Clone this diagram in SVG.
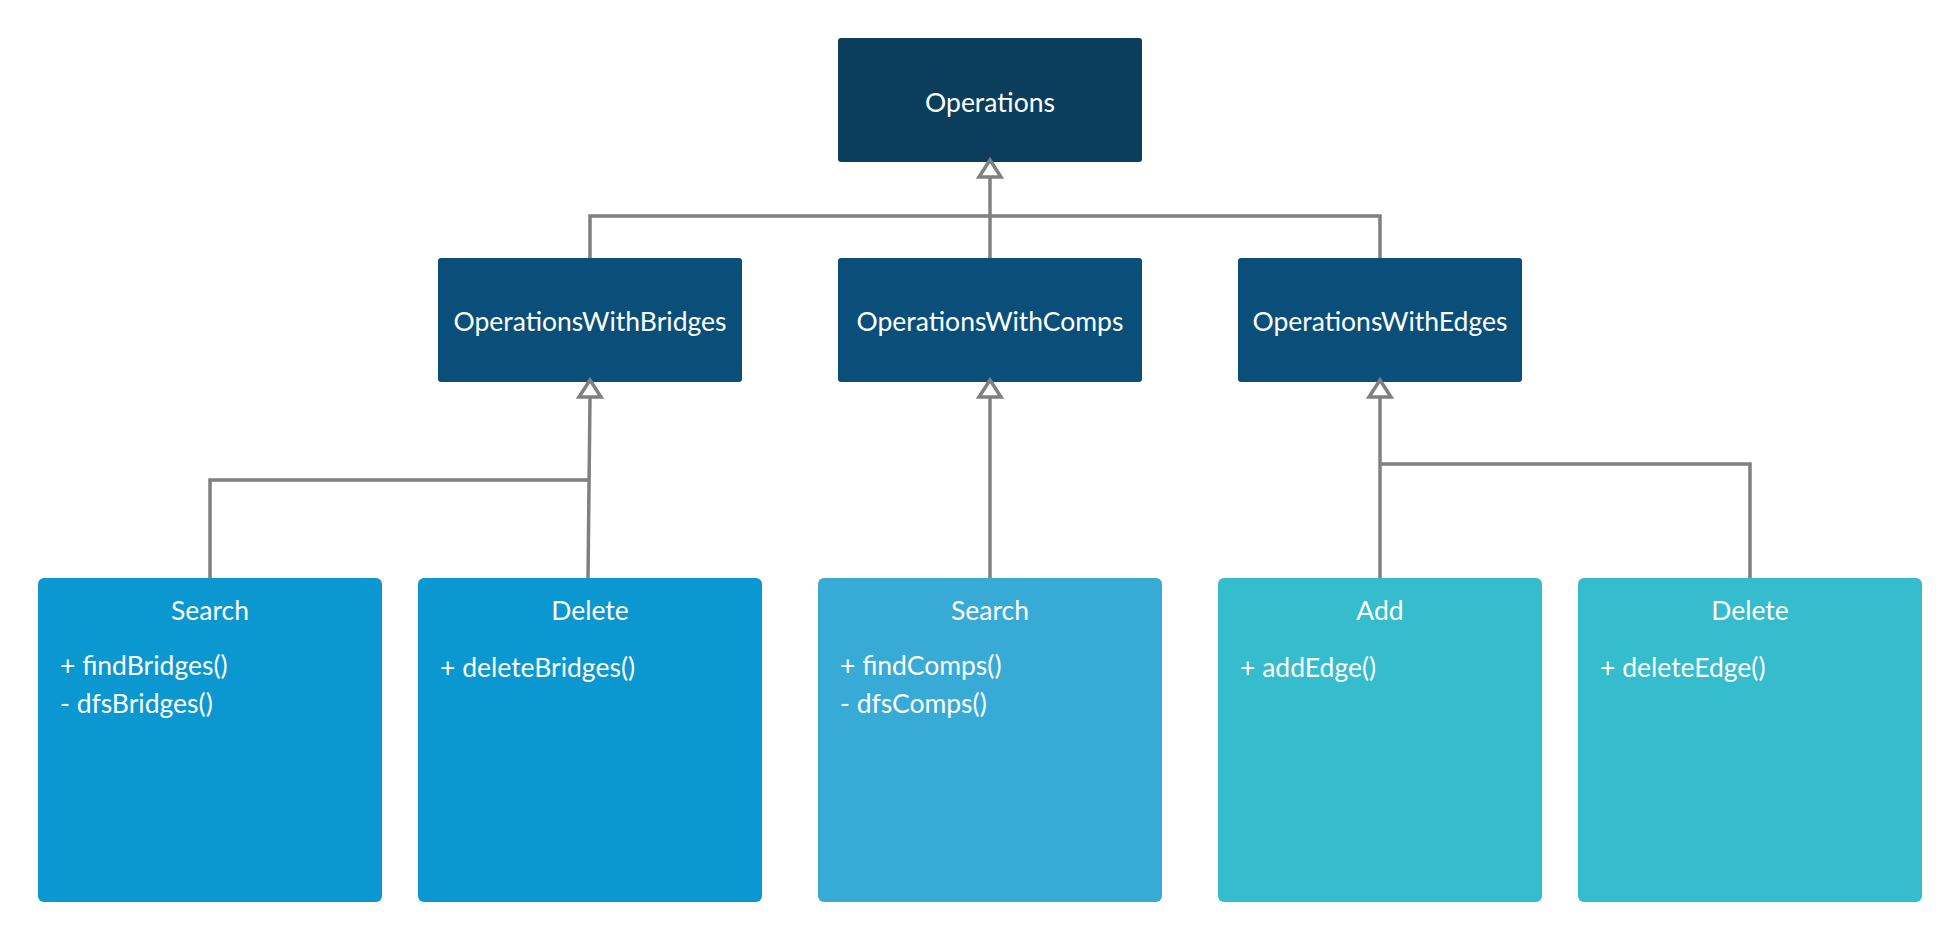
<svg xmlns="http://www.w3.org/2000/svg" width="1960" height="940" viewBox="0 0 1960 940">
  <style>
    .t { font-family: Lato, "Open Sans", "Liberation Sans", sans-serif; fill: #ffffff; }
    .title { font-size: 26.5px; text-anchor: middle; }
    .cls { font-size: 26.5px; text-anchor: middle; }
    .m { font-size: 26.5px; }
    .conn { fill: none; stroke: #808080; stroke-width: 3.5; stroke-linejoin: miter; }
    .tri { fill: #ffffff; stroke: #808080; stroke-width: 3.5; stroke-linejoin: miter; }
  </style>
  <rect width="1960" height="940" fill="#ffffff"/>

  <g id="node-operations">
    <rect x="838" y="38" width="304" height="124" rx="3" fill="#0b3e5d"/>
    <text class="t title" x="990" y="112">Operations</text>
  </g>
  <g id="node-ops-bridges">
    <rect x="438" y="258" width="304" height="124" rx="3" fill="#0a4f79"/>
    <text class="t title" x="590" y="331">OperationsWithBridges</text>
  </g>
  <g id="node-ops-comps">
    <rect x="838" y="258" width="304" height="124" rx="3" fill="#0a4f79"/>
    <text class="t title" x="990" y="331">OperationsWithComps</text>
  </g>
  <g id="node-ops-edges">
    <rect x="1238" y="258" width="284" height="124" rx="3" fill="#0a4f79"/>
    <text class="t title" x="1380" y="331">OperationsWithEdges</text>
  </g>

  <g id="node-search-bridges">
    <rect x="38" y="578" width="344" height="324" rx="6" fill="#0b97cf"/>
    <text class="t cls" x="210" y="620">Search</text>
    <text class="t m" x="60" y="675">+ findBridges()</text>
    <text class="t m" x="60" y="713">- dfsBridges()</text>
  </g>
  <g id="node-delete-bridges">
    <rect x="418" y="578" width="344" height="324" rx="6" fill="#0b97cf"/>
    <text class="t cls" x="590" y="620">Delete</text>
    <text class="t m" x="440" y="677">+ deleteBridges()</text>
  </g>
  <g id="node-search-comps">
    <rect x="818" y="578" width="344" height="324" rx="6" fill="#38aad6"/>
    <text class="t cls" x="990" y="620">Search</text>
    <text class="t m" x="840" y="675">+ findComps()</text>
    <text class="t m" x="840" y="713">- dfsComps()</text>
  </g>
  <g id="node-add-edge">
    <rect x="1218" y="578" width="324" height="324" rx="6" fill="#35bccd"/>
    <text class="t cls" x="1380" y="620">Add</text>
    <text class="t m" x="1240" y="677">+ addEdge()</text>
  </g>
  <g id="node-delete-edge">
    <rect x="1578" y="578" width="344" height="324" rx="6" fill="#35bccd"/>
    <text class="t cls" x="1750" y="620">Delete</text>
    <text class="t m" x="1600" y="677">+ deleteEdge()</text>
  </g>

  <g id="connectors">
    <polyline class="conn" points="590,258 590,216 1380,216 1380,258"/>
    <line class="conn" x1="990" y1="258" x2="990" y2="177"/>
    <path class="tri" d="M990,160 L1001,177 L979,177 Z"/>

    <polyline class="conn" points="210,578 210,480 590,480"/>
    <line class="conn" x1="588" y1="578" x2="590" y2="397"/>
    <path class="tri" d="M590,380 L601,397 L579,397 Z"/>

    <line class="conn" x1="990" y1="578" x2="990" y2="397"/>
    <path class="tri" d="M990,380 L1001,397 L979,397 Z"/>

    <line class="conn" x1="1380" y1="578" x2="1380" y2="397"/>
    <polyline class="conn" points="1380,464 1750,464 1750,578"/>
    <path class="tri" d="M1380,380 L1391,397 L1369,397 Z"/>
  </g>
</svg>
